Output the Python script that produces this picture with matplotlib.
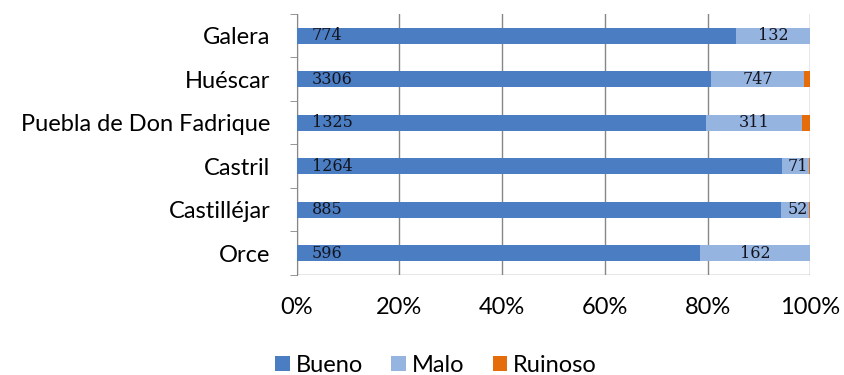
import numpy as np
import matplotlib.pyplot as plt
from matplotlib.ticker import PercentFormatter

municipios = ['Galera', 'Huéscar', 'Puebla de Don Fadrique', 'Castril',
              'Castilléjar', 'Orce']
bueno = [774, 3306, 1325, 1264, 885, 596]
malo = [132, 747, 311, 71, 52, 162]
ruinoso = [0, 49, 26, 3, 2, 1]

series = ['Bueno', 'Malo', 'Ruinoso']
colores = ['#4a7dc2', '#95b4df', '#e46c0a']

plt.rcParams['font.family'] = ['Lato', 'DejaVu Sans']

datos = np.array([bueno, malo, ruinoso], dtype=float)
pct = datos / datos.sum(axis=0) * 100

fig = plt.figure(figsize=(8.45, 3.75), dpi=100)
ax = fig.add_axes([0.351, 0.267, 0.608, 0.696])

y = np.arange(len(municipios))
izq = np.zeros(len(municipios))
barras = []
for i, (nombre, col) in enumerate(zip(series, colores)):
    b = ax.barh(y, pct[i], left=izq, height=0.37, color=col, label=nombre,
                zorder=3)
    barras.append(b)
    izq += pct[i]

# etiquetas: Bueno junto a la base, Malo centrada (o al final si no cabe)
estilo = dict(va='center', fontsize=11.5, family='DejaVu Serif',
              color='#14141e', zorder=4)
for j in range(len(municipios)):
    ax.text(3, y[j], str(bueno[j]), ha='left', **estilo)
    if malo[j] < 100:
        xm = pct[0][j] + pct[1][j] - 0.2
        ax.text(xm, y[j], str(malo[j]), ha='right', **estilo)
    else:
        xm = pct[0][j] + pct[1][j] / 2
        ax.text(xm, y[j], str(malo[j]), ha='center', **estilo)

ax.set_xlim(0, 100)
ax.set_ylim(len(municipios) - 0.5, -0.5)
ax.set_xticks(np.arange(0, 101, 20))
ax.xaxis.set_major_formatter(PercentFormatter(decimals=0))
ax.set_yticks(y)
ax.set_yticklabels(municipios)
ax.set_yticks(np.arange(-0.5, len(municipios), 1), minor=True)
ax.tick_params(axis='y', which='major', length=0, pad=19, labelsize=17)
ax.tick_params(axis='y', which='minor', length=5, color='#868686',
               direction='out')
ax.tick_params(axis='x', length=0, pad=16, labelsize=17)
ax.grid(axis='x', color='#868686', linewidth=1, zorder=0)

for lado in ['top', 'right', 'bottom']:
    ax.spines[lado].set_visible(False)
ax.spines['left'].set_color('#868686')
ax.axhline(len(municipios) - 0.5, color='#868686', linewidth=1, zorder=2)

fig.legend(handles=barras, labels=series, loc='center',
           bbox_to_anchor=(0.516, 0.025), ncol=3, frameon=False, fontsize=17,
           handlelength=0.62, handleheight=0.62, handletextpad=0.25,
           columnspacing=1.2)

fig.savefig('out.png', dpi=100, facecolor='white')
